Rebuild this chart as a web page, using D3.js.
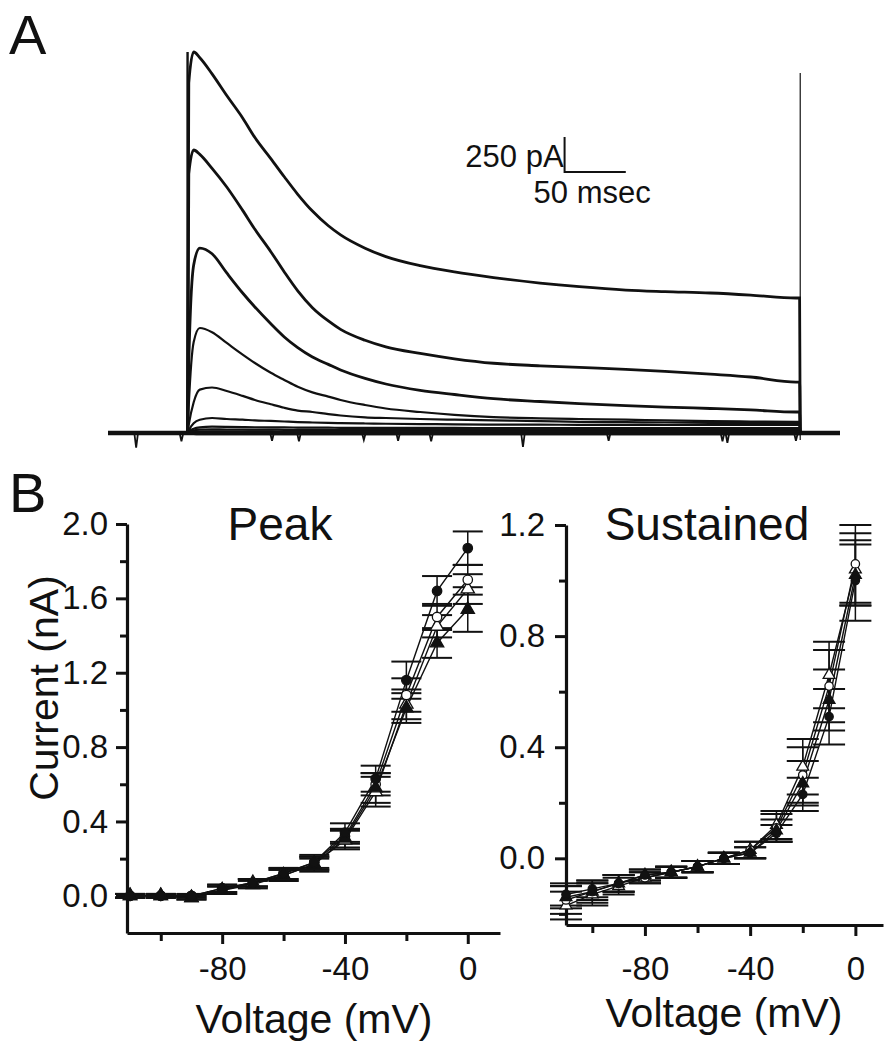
<!DOCTYPE html>
<html>
<head>
<meta charset="utf-8">
<script src="https://cdn.jsdelivr.net/npm/d3@7"></script>
<style>
  body { margin: 0; background: #fff; }
  svg { display: block; }
  text { font-family: "Liberation Sans", Arial, sans-serif; fill: #111; }
</style>
</head>
<body>
<svg id="fig" width="892" height="1050" viewBox="0 0 892 1050"></svg>
<script>
// ---------- Panel A: current traces (time in ms, current in pA) ----------
const traceTime = [0, 1, 5, 10, 20, 32, 45, 55, 68, 79, 90, 102, 115, 125, 145, 162, 190, 218, 250, 288, 320, 358, 390, 427, 460, 497, 500];
const trace1 = [0, 2500, 2721, 2680, 2565, 2410, 2250, 2110, 1960, 1830, 1705, 1585, 1480, 1415, 1320, 1260, 1195, 1150, 1110, 1071, 1045, 1021, 1010, 1000, 985, 964, 964];
const trace2 = [0, 1850, 2021, 1990, 1890, 1757, 1590, 1455, 1295, 1150, 1015, 895, 800, 740, 662, 615, 568, 530, 498, 480, 468, 455, 440, 420, 400, 364, 364];
const trace3 = [0, 500, 1200, 1321, 1280, 1143, 1000, 900, 780, 686, 610, 543, 490, 450, 390, 350, 305, 275, 245, 225, 210, 195, 185, 175, 165, 150, 150];
const trace4 = [0, 200, 650, 750, 720, 643, 560, 500, 430, 379, 330, 290, 260, 236, 200, 175, 150, 130, 114, 105, 100, 95, 90, 85, 82, 79, 79];
const trace5 = [0, 60, 220, 310, 325, 300, 265, 236, 205, 180, 160, 150, 135, 125, 112, 107, 100, 95, 90, 85, 79, 77, 75, 73, 72, 71, 71];
const trace6 = [0, 20, 70, 95, 107, 100, 95, 90, 86, 82, 78, 75, 72, 71, 68, 66, 64, 62, 60, 60, 58, 58, 57, 57, 57, 57, 57];
const trace7 = [0, 10, 30, 40, 45, 44, 42, 41, 40, 40, 39, 38, 38, 37, 37, 36, 36, 36, 35, 35, 35, 35, 35, 35, 35, 35, 35];
const trace8 = [0, 5, 18, 24, 26, 25, 25, 24, 24, 23, 23, 23, 22, 22, 22, 22, 22, 21, 21, 21, 21, 21, 21, 21, 21, 21, 21];
const trace9 = [0, 3, 8, 10, 12, 12, 11, 11, 11, 10, 10, 10, 10, 10, 10, 10, 10, 9, 9, 9, 9, 9, 9, 9, 9, 9, 9];
const trace10 = [0, -2, -6, -8, -9, -9, -9, -9, -9, -9, -9, -9, -9, -9, -9, -9, -9, -9, -9, -9, -9, -9, -9, -9, -9, -9, -9];
const traces = [trace1, trace2, trace3, trace4, trace5, trace6, trace7, trace8, trace9, trace10];
// artefact spikes on the holding baseline
const spikeTime = [-42, -5, 69, 91, 144, 172, 199, 274, 344, 437, 441, 497];
const spikeDepth = [-105, -60, -55, -60, -50, -55, -60, -100, -55, -60, -70, -55];

// ---------- Panel B: I-V data (voltage in mV, current in nA) ----------
const voltage = [-110, -100, -90, -80, -70, -60, -50, -40, -30, -20, -10, 0];

const peakFilledCircle = [0.00, 0.00, 0.00, 0.04, 0.07, 0.12, 0.18, 0.34, 0.63, 1.16, 1.64, 1.87];
const peakOpenCircle = [0.00, 0.00, 0.00, 0.04, 0.07, 0.12, 0.18, 0.32, 0.60, 1.08, 1.50, 1.70];
const peakOpenTriangle = [0.00, 0.00, -0.01, 0.03, 0.07, 0.11, 0.17, 0.30, 0.56, 1.03, 1.45, 1.65];
const peakFilledTriangle = [0.00, 0.00, -0.01, 0.03, 0.06, 0.11, 0.17, 0.31, 0.58, 1.01, 1.36, 1.54];
const peakErrFilledCircle = [0.01, 0.01, 0.01, 0.02, 0.02, 0.03, 0.04, 0.05, 0.07, 0.10, 0.08, 0.09];
const peakErrOpenCircle = [0.01, 0.01, 0.01, 0.02, 0.02, 0.03, 0.03, 0.04, 0.06, 0.09, 0.07, 0.08];
const peakErrOpenTriangle = [0.01, 0.01, 0.01, 0.02, 0.02, 0.03, 0.03, 0.05, 0.08, 0.08, 0.06, 0.08];
const peakErrFilledTriangle = [0.01, 0.01, 0.01, 0.02, 0.02, 0.03, 0.04, 0.05, 0.08, 0.08, 0.08, 0.12];

const sustFilledCircle = [-0.13, -0.11, -0.09, -0.06, -0.05, -0.03, 0.00, 0.02, 0.09, 0.23, 0.51, 1.00];
const sustOpenCircle = [-0.15, -0.12, -0.09, -0.07, -0.05, -0.03, 0.00, 0.03, 0.11, 0.30, 0.62, 1.06];
const sustOpenTriangle = [-0.17, -0.13, -0.10, -0.07, -0.05, -0.03, 0.00, 0.03, 0.12, 0.33, 0.66, 1.04];
const sustFilledTriangle = [-0.14, -0.12, -0.09, -0.06, -0.05, -0.03, 0.00, 0.02, 0.10, 0.27, 0.57, 1.02];
const sustErrFilledCircle = [0.04, 0.03, 0.03, 0.02, 0.02, 0.02, 0.02, 0.02, 0.03, 0.06, 0.10, 0.145];
const sustErrOpenCircle = [0.05, 0.04, 0.03, 0.02, 0.02, 0.02, 0.02, 0.03, 0.05, 0.10, 0.13, 0.14];
const sustErrOpenTriangle = [0.05, 0.04, 0.03, 0.02, 0.02, 0.02, 0.02, 0.03, 0.05, 0.10, 0.12, 0.13];
const sustErrFilledTriangle = [0.04, 0.03, 0.03, 0.02, 0.02, 0.02, 0.02, 0.02, 0.04, 0.08, 0.11, 0.11];

const xMajor = [-80, -40, 0];
const xMinor = [-100, -60, -20];
const peakYMajor = [0, 0.4, 0.8, 1.2, 1.6, 2.0];
const peakYMinor = [0.2, 0.6, 1.0, 1.4, 1.8];
const sustYMajor = [0, 0.4, 0.8, 1.2];
const sustYMinor = [-0.2, 0.2, 0.6, 1.0];

const svg = d3.select("#fig");

// ---------------- Panel A ----------------
const tx = d3.scaleLinear().domain([-65, 533]).range([108, 840]);
const ty = d3.scaleLinear().domain([0, 2721]).range([433, 52]);

svg.append("text").attr("x", 9).attr("y", 54).attr("font-size", 56).text("A");

const gA = svg.append("g");

// holding level
gA.append("line")
  .attr("x1", tx(-65)).attr("x2", tx(533))
  .attr("y1", ty(0)).attr("y2", ty(0))
  .attr("stroke", "#111").attr("stroke-width", 4.5);

// artefact spikes
gA.selectAll(".spike")
  .data(spikeTime.map((t, i) => ({ t, d: spikeDepth[i] })))
  .join("path")
  .attr("class", "spike")
  .attr("d", d => `M${tx(d.t - 1.5)},${ty(0)}L${tx(d.t)},${ty(d.d)}L${tx(d.t + 1.5)},${ty(0)}`)
  .attr("fill", "none").attr("stroke", "#111").attr("stroke-width", 1.8);

const traceLine = d3.line()
  .x(d => tx(d.t))
  .y(d => ty(d.i))
  .curve(d3.curveMonotoneX);

traces.forEach((tr, k) => {
  const pts = traceTime.map((t, i) => ({ t, i: tr[i] }));
  pts.push({ t: 500.5, i: 0 });
  gA.append("path")
    .attr("d", traceLine(pts))
    .attr("fill", "none")
    .attr("stroke", "#111")
    .attr("stroke-width", k < 3 ? 2.8 : 2.2);
});

// stimulus edges
gA.append("line")
  .attr("x1", tx(0)).attr("x2", tx(0))
  .attr("y1", ty(0)).attr("y2", ty(2721))
  .attr("stroke", "#111").attr("stroke-width", 2.4);
gA.append("line")
  .attr("x1", tx(500.5)).attr("x2", tx(500.5))
  .attr("y1", ty(-50)).attr("y2", ty(2571))
  .attr("stroke", "#111").attr("stroke-width", 1.2);

// scale bar (250 pA, 50 ms)
const sbT = 308, sbI = 1864;
gA.append("path")
  .attr("d", `M${tx(sbT)},${ty(sbI + 250)}V${ty(sbI)}H${tx(sbT + 50)}`)
  .attr("fill", "none").attr("stroke", "#111").attr("stroke-width", 2);
gA.append("text")
  .attr("x", tx(sbT) - 1).attr("y", ty(sbI) - 5)
  .attr("text-anchor", "end").attr("font-size", 31).text("250 pA");
gA.append("text")
  .attr("x", tx(sbT + 50) + 25).attr("y", ty(sbI) + 31)
  .attr("text-anchor", "end").attr("font-size", 31).text("50 msec");

// ---------------- Panel B ----------------
svg.append("text").attr("x", 9).attr("y", 512).attr("font-size", 56).text("B");

function drawIV(o) {
  const g = svg.append("g");
  const x = d3.scaleLinear().domain(o.xDomain).range(o.xRange);
  const y = d3.scaleLinear().domain(o.yDomain).range(o.yRange);

  const styleAxis = a => {
    a.selectAll("path.domain").attr("stroke", "#111").attr("stroke-width", 3.2);
    a.selectAll(".tick line").attr("stroke", "#111").attr("stroke-width", 3);
    a.selectAll("text").attr("font-size", 33).attr("fill", "#111")
      .attr("font-family", "Liberation Sans, Arial, sans-serif");
  };

  g.append("g").attr("transform", `translate(0,${o.yRange[0]})`)
    .call(d3.axisBottom(x).tickValues(xMinor).tickSize(8).tickFormat(""))
    .call(a => a.select(".domain").remove())
    .call(styleAxis);
  g.append("g").attr("transform", `translate(0,${o.yRange[0]})`)
    .call(d3.axisBottom(x).tickValues(xMajor).tickSize(11).tickSizeOuter(0)
      .tickPadding(o.xPad).tickFormat(d => String(d)))
    .call(styleAxis);

  g.append("g").attr("transform", `translate(${o.xRange[0]},0)`)
    .call(d3.axisLeft(y).tickValues(o.yMinor).tickSize(7).tickFormat(""))
    .call(a => a.select(".domain").remove())
    .call(styleAxis);
  g.append("g").attr("transform", `translate(${o.xRange[0]},0)`)
    .call(d3.axisLeft(y).tickValues(o.yMajor).tickSize(11).tickSizeOuter(0)
      .tickPadding(o.yPad).tickFormat(d => d.toFixed(1)))
    .call(styleAxis);

  const line = d3.line().x(d => x(d.v)).y(d => y(d.m));

  o.series.forEach(s => {
    const pts = voltage.map((v, i) => ({ v, m: s.mean[i], e: s.err[i] }));
    const eb = g.append("g");
    pts.forEach(p => {
      eb.append("line")
        .attr("x1", x(p.v)).attr("x2", x(p.v))
        .attr("y1", y(p.m - p.e)).attr("y2", y(p.m + p.e))
        .attr("stroke", "#111").attr("stroke-width", 1.5);
      [p.m - p.e, p.m + p.e].forEach(c => {
        eb.append("line")
          .attr("x1", x(p.v) - o.cap).attr("x2", x(p.v) + o.cap)
          .attr("y1", y(c)).attr("y2", y(c))
          .attr("stroke", "#111").attr("stroke-width", 2);
      });
    });
    g.append("path").attr("d", line(pts))
      .attr("fill", "none").attr("stroke", "#111").attr("stroke-width", 1.4);
    s.pts = pts;
  });

  o.series.forEach(s => {
    const sym = d3.symbol().type(s.shape).size(s.shape === d3.symbolCircle ? o.msize : o.msize * 1.1);
    g.selectAll(null).data(s.pts).join("path")
      .attr("transform", d => `translate(${x(d.v)},${y(d.m)})`)
      .attr("d", sym)
      .attr("fill", s.filled ? "#111" : "#fff")
      .attr("stroke", "#111").attr("stroke-width", 1.3);
  });

  g.append("text")
    .attr("x", o.titlePos[0]).attr("y", o.titlePos[1])
    .attr("text-anchor", "middle").attr("font-size", 46).text(o.title);
  g.append("text")
    .attr("x", o.xLabelX).attr("y", o.xLabelY)
    .attr("text-anchor", "middle").attr("font-size", 41).text("Voltage (mV)");
  return g;
}

drawIV({
  xDomain: [-111, 10.5], xRange: [127, 500],
  yDomain: [-0.2, 2.0], yRange: [933, 524],
  yMajor: peakYMajor, yMinor: peakYMinor,
  xPad: 13, yPad: 8, cap: 15, msize: 70,
  title: "Peak", titlePos: [280, 540],
  xLabelX: 314, xLabelY: 1033,
  series: [
    { mean: peakOpenTriangle, err: peakErrOpenTriangle, shape: d3.symbolTriangle, filled: false },
    { mean: peakOpenCircle, err: peakErrOpenCircle, shape: d3.symbolCircle, filled: false },
    { mean: peakFilledTriangle, err: peakErrFilledTriangle, shape: d3.symbolTriangle, filled: true },
    { mean: peakFilledCircle, err: peakErrFilledCircle, shape: d3.symbolCircle, filled: true }
  ]
});

drawIV({
  xDomain: [-110, 10.5], xRange: [566, 883],
  yDomain: [-0.24, 1.2], yRange: [925, 525],
  yMajor: sustYMajor, yMinor: sustYMinor,
  xPad: 21, yPad: 10, cap: 16, msize: 55,
  title: "Sustained", titlePos: [707, 540],
  xLabelX: 724, xLabelY: 1027,
  series: [
    { mean: sustOpenTriangle, err: sustErrOpenTriangle, shape: d3.symbolTriangle, filled: false },
    { mean: sustOpenCircle, err: sustErrOpenCircle, shape: d3.symbolCircle, filled: false },
    { mean: sustFilledTriangle, err: sustErrFilledTriangle, shape: d3.symbolTriangle, filled: true },
    { mean: sustFilledCircle, err: sustErrFilledCircle, shape: d3.symbolCircle, filled: true }
  ]
});

svg.append("text")
  .attr("transform", "translate(58,688) rotate(-90)")
  .attr("text-anchor", "middle").attr("font-size", 41).text("Current (nA)");
</script>
</body>
</html>
